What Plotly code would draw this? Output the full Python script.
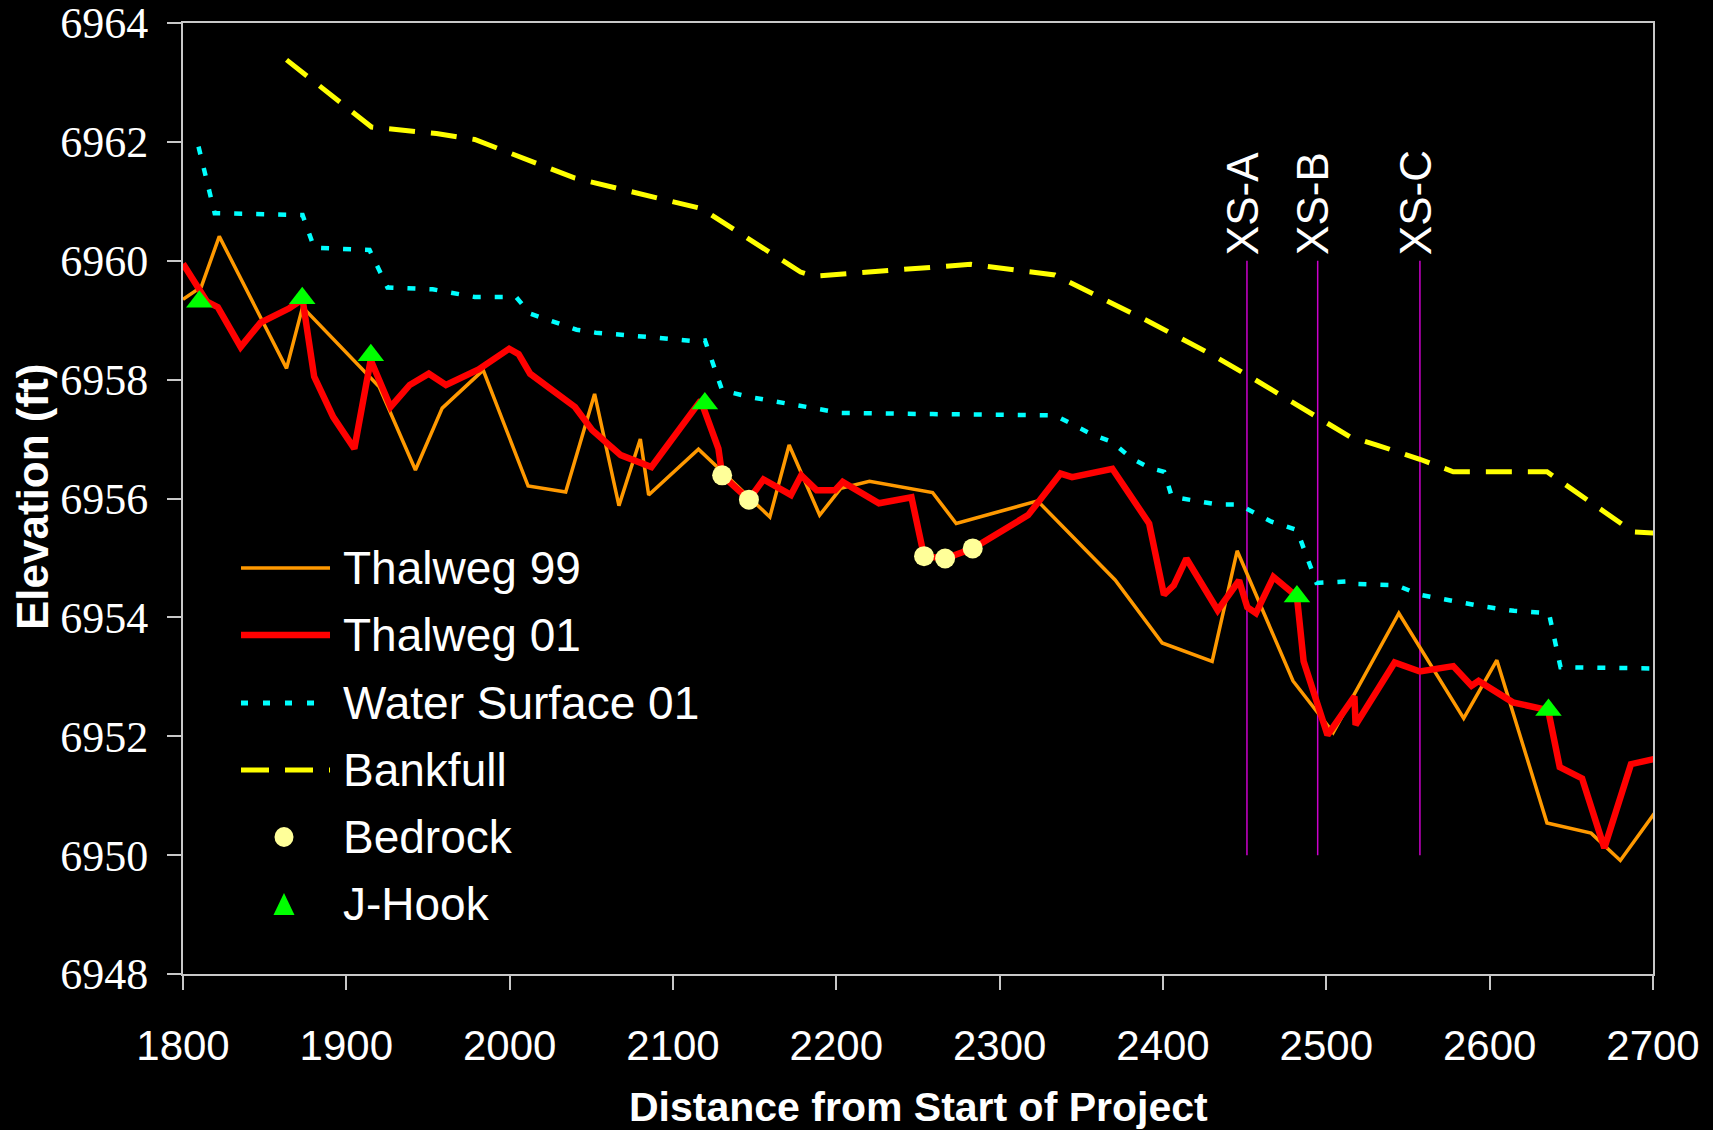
import plotly.graph_objects as go

# ---------------- data ----------------
t99_x = [1800.0, 1811.2, 1822.2, 1863.4, 1873.2, 1920.1, 1942.3, 1958.7, 1983.8, 2011.3,
         2034.3, 2052.0, 2066.9, 2080.0, 2085.1, 2115.6, 2159.3, 2171.1, 2189.8, 2202.7,
         2220.3, 2258.9, 2273.4, 2323.2, 2370.7, 2399.5, 2430.1, 2445.4, 2479.6, 2504.2,
         2544.4, 2584.1, 2604.4, 2635.1, 2662.1, 2680.0, 2707.6]
t99_y = [6959.35, 6959.56, 6960.41, 6958.19, 6959.22, 6957.88, 6956.48, 6957.52, 6958.16, 6956.21,
         6956.11, 6957.76, 6955.88, 6957.00, 6956.06, 6956.83, 6955.69, 6956.90, 6955.72, 6956.17,
         6956.29, 6956.10, 6955.58, 6955.96, 6954.63, 6953.57, 6953.26, 6955.12, 6952.93, 6952.06,
         6954.07, 6952.30, 6953.28, 6950.54, 6950.37, 6949.91, 6950.96]

t01_x = [1800.0, 1814.7, 1821.3, 1835.3, 1847.5, 1865.1, 1873.2, 1880.3, 1892.0, 1904.9,
         1914.9, 1927.1, 1938.8, 1950.5, 1961.0, 1981.0, 1999.7, 2005.5, 2012.5, 2040.0,
         2050.5, 2068.0, 2086.8, 2117.0, 2127.8, 2130.1, 2146.5, 2155.4, 2172.2, 2178.5,
         2187.9, 2199.2, 2203.9, 2226.1, 2246.0, 2253.7, 2266.6, 2283.5, 2317.4, 2337.3,
         2344.3, 2369.0, 2391.5, 2400.6, 2406.6, 2414.3, 2433.5, 2446.6, 2451.6, 2456.9,
         2467.6, 2482.0, 2486.1, 2500.7, 2517.2, 2517.9, 2541.8, 2557.3, 2577.7, 2588.9,
         2593.2, 2614.2, 2635.8, 2642.9, 2656.6, 2670.2, 2686.5, 2707.6]
t01_y = [6959.95, 6959.31, 6959.22, 6958.55, 6958.96, 6959.20, 6959.35, 6958.05, 6957.37, 6956.84,
         6958.33, 6957.54, 6957.91, 6958.10, 6957.91, 6958.17, 6958.52, 6958.43, 6958.10, 6957.54,
         6957.15, 6956.73, 6956.53, 6957.65, 6956.84, 6956.39, 6955.98, 6956.32, 6956.06, 6956.39,
         6956.14, 6956.14, 6956.28, 6955.92, 6956.02, 6955.03, 6954.99, 6955.16, 6955.72, 6956.42,
         6956.36, 6956.50, 6955.58, 6954.38, 6954.54, 6954.99, 6954.12, 6954.62, 6954.17, 6954.07,
         6954.68, 6954.35, 6953.26, 6952.02, 6952.67, 6952.19, 6953.24, 6953.09, 6953.18, 6952.85,
         6952.93, 6952.57, 6952.44, 6951.48, 6951.29, 6950.12, 6951.53, 6951.66]

ws_x = [1809.5, 1819.4, 1873.2, 1880.3, 1914.2, 1925.2, 1952.8, 1978.6, 2003.9, 2012.5,
        2041.0, 2052.8, 2088.0, 2114.9, 2119.6, 2130.1, 2146.5, 2174.6, 2202.7, 2258.9,
        2333.8, 2357.2, 2368.9, 2380.5, 2392.3, 2400.7, 2405.4, 2433.0, 2446.1, 2466.4,
        2482.0, 2494.0, 2516.7, 2519.1, 2543.0, 2557.3, 2576.5, 2594.4, 2614.8, 2636.3,
        2643.4, 2703.2]
ws_y = [6961.92, 6960.80, 6960.77, 6960.22, 6960.18, 6959.55, 6959.52, 6959.39, 6959.39, 6959.11,
        6958.84, 6958.79, 6958.71, 6958.64, 6958.66, 6957.82, 6957.71, 6957.57, 6957.44, 6957.42,
        6957.40, 6957.07, 6956.95, 6956.68, 6956.51, 6956.45, 6956.03, 6955.90, 6955.90, 6955.61,
        6955.47, 6954.58, 6954.61, 6954.56, 6954.54, 6954.38, 6954.28, 6954.19, 6954.11, 6954.07,
        6953.16, 6953.14]

bf_x = [1863.4, 1915.4, 1955.2, 1978.6, 2040.0, 2117.2, 2178.1, 2186.3, 2282.3, 2333.8,
        2391.8, 2430.6, 2456.9, 2491.6, 2514.3, 2531.0, 2557.3, 2577.7, 2635.1, 2687.7, 2700.9]
bf_y = [6963.38, 6962.25, 6962.14, 6962.04, 6961.39, 6960.88, 6959.81, 6959.74, 6959.94, 6959.76,
        6958.97, 6958.41, 6957.99, 6957.43, 6957.04, 6956.90, 6956.66, 6956.45, 6956.45, 6955.44, 6955.42]

bed_x = [2130.1, 2146.5, 2253.7, 2266.6, 2283.5]
bed_y = [6956.39, 6955.98, 6955.03, 6954.99, 6955.16]

jh_x = [1810.0, 1873.0, 1915.0, 2119.5, 2482.0, 2636.0]
jh_y = [6959.31, 6959.37, 6958.41, 6957.60, 6954.35, 6952.44]

xs_names = ["XS-A", "XS-B", "XS-C"]
xs_dist = [2451.4, 2494.7, 2557.3]
xs_bottom = 6950
xs_top = 6960

series_names = ["Thalweg 99", "Thalweg 01", "Water Surface 01", "Bankfull", "Bedrock", "J-Hook"]

x_ticks = [1800, 1900, 2000, 2100, 2200, 2300, 2400, 2500, 2600, 2700]
y_ticks = [6948, 6950, 6952, 6954, 6956, 6958, 6960, 6962, 6964]

# ---------------- styles ----------------
C_T99 = "#FF9900"
C_T01 = "#FF0000"
C_WS = "#00FFFF"
C_BF = "#FFFF00"
C_BED = "#FFFF99"
C_JH = "#00FF00"
C_XS = "#CC00CC"
AXC = "#C8C8C8"
SANS = "'Liberation Sans', Arial, sans-serif"
SERIF = "'Liberation Serif', 'Times New Roman', serif"

W, H = 1713, 1130
L, R, T, B = 183, 60, 23, 156
PW, PH = W - L - R, H - T - B

def px(x):
    return (x - L) / PW

def py(y):
    return (H - B - y) / PH

fig = go.Figure()

for xv in xs_dist:
    fig.add_trace(go.Scatter(x=[xv, xv], y=[xs_bottom, xs_top], mode="lines",
                             line=dict(color=C_XS, width=1.5), showlegend=False, hoverinfo="skip"))

fig.add_trace(go.Scatter(x=bf_x, y=bf_y, mode="lines", name=series_names[3],
                         line=dict(color=C_BF, width=5, dash="26px,16px")))
fig.add_trace(go.Scatter(x=ws_x, y=ws_y, mode="lines", name=series_names[2],
                         line=dict(color=C_WS, width=4.5, dash="8px,14px")))
fig.add_trace(go.Scatter(x=t99_x, y=t99_y, mode="lines", name=series_names[0],
                         line=dict(color=C_T99, width=3.5)))
fig.add_trace(go.Scatter(x=t01_x, y=t01_y, mode="lines", name=series_names[1],
                         line=dict(color=C_T01, width=6.5)))
fig.add_trace(go.Scatter(x=bed_x, y=bed_y, mode="markers", name=series_names[4],
                         marker=dict(color=C_BED, size=20, symbol="circle", line=dict(width=0))))
fig.add_trace(go.Scatter(x=jh_x, y=jh_y, mode="markers", name=series_names[5],
                         marker=dict(color=C_JH, size=23, symbol="triangle-up", line=dict(width=0))))

# cross-section labels
for xv, name in zip(xs_dist, xs_names):
    fig.add_annotation(x=xv, y=xs_top, text=name, textangle=-90, showarrow=False,
                       xanchor="center", yanchor="bottom", yshift=4, xshift=-5,
                       font=dict(family=SANS, size=44, color="white"))

# ---------------- manual legend ----------------
shapes = []
leg_rows = [568, 635, 703, 770, 837, 904]
leg_x0, leg_x1 = 241, 330
styles = [
    dict(color=C_T99, width=3.5, dash="solid"),
    dict(color=C_T01, width=6.5, dash="solid"),
    dict(color=C_WS, width=5, dash="7px,15px"),
    dict(color=C_BF, width=5, dash="28px,16px"),
]
for i in range(4):
    shapes.append(dict(type="line", xref="paper", yref="paper",
                       x0=px(leg_x0), x1=px(leg_x1 if i != 2 else 320),
                       y0=py(leg_rows[i]), y1=py(leg_rows[i]), line=styles[i]))
# bedrock circle
cx, cy = 284, leg_rows[4]
shapes.append(dict(type="circle", xref="paper", yref="paper",
                   x0=px(cx - 9.5), x1=px(cx + 9.5), y0=py(cy + 10), y1=py(cy - 10),
                   fillcolor=C_BED, line=dict(width=0)))
# j-hook triangle
cx, cy = 284, leg_rows[5]
path = "M {:.5f},{:.5f} L {:.5f},{:.5f} L {:.5f},{:.5f} Z".format(
    px(cx - 10.5), py(cy + 11), px(cx + 10.5), py(cy + 11), px(cx), py(cy - 11))
shapes.append(dict(type="path", xref="paper", yref="paper", path=path,
                   fillcolor=C_JH, line=dict(width=0)))

for i, name in enumerate(series_names):
    fig.add_annotation(xref="paper", yref="paper", x=px(341), y=py(leg_rows[i]),
                       text=name, showarrow=False, xanchor="left", yanchor="middle",
                       font=dict(family=SANS, size=46, color="white"))

# axis titles
fig.add_annotation(xref="paper", yref="paper", x=px(32), y=py(497), text="<b>Elevation (ft)</b>",
                   textangle=-90, showarrow=False, xanchor="center", yanchor="middle",
                   font=dict(family=SANS, size=44, color="white"))
fig.add_annotation(xref="paper", yref="paper", x=px(918), y=py(1107),
                   text="<b>Distance from Start of Project</b>",
                   showarrow=False, xanchor="center", yanchor="middle",
                   font=dict(family=SANS, size=41, color="white"))

fig.update_layout(
    width=W, height=H,
    margin=dict(l=L, r=R, t=T, b=B, pad=0, autoexpand=False),
    paper_bgcolor="black", plot_bgcolor="black",
    showlegend=False,
    shapes=shapes,
    xaxis=dict(range=[1800, 2700], tickvals=x_ticks, ticktext=[str(v) for v in x_ticks],
               showgrid=False, zeroline=False, showline=True, linecolor=AXC, linewidth=2,
               mirror=True, ticks="outside", ticklen=14, tickwidth=2, tickcolor=AXC,
               ticklabelstandoff=20, ticklabeloverflow="allow", automargin=False,
               tickfont=dict(family=SANS, size=42, color="white")),
    yaxis=dict(range=[6948, 6964], tickvals=y_ticks, ticktext=[str(v) for v in y_ticks],
               showgrid=False, zeroline=False, showline=True, linecolor=AXC, linewidth=2,
               mirror=True, ticks="outside", ticklen=14, tickwidth=2, tickcolor=AXC,
               ticklabelstandoff=10, ticklabeloverflow="allow", automargin=False,
               tickfont=dict(family=SERIF, size=44, color="white")),
)

fig.write_html("out.html", config={"displayModeBar": False},
               post_script="document.body.style.margin='0';document.body.style.background='black';")
